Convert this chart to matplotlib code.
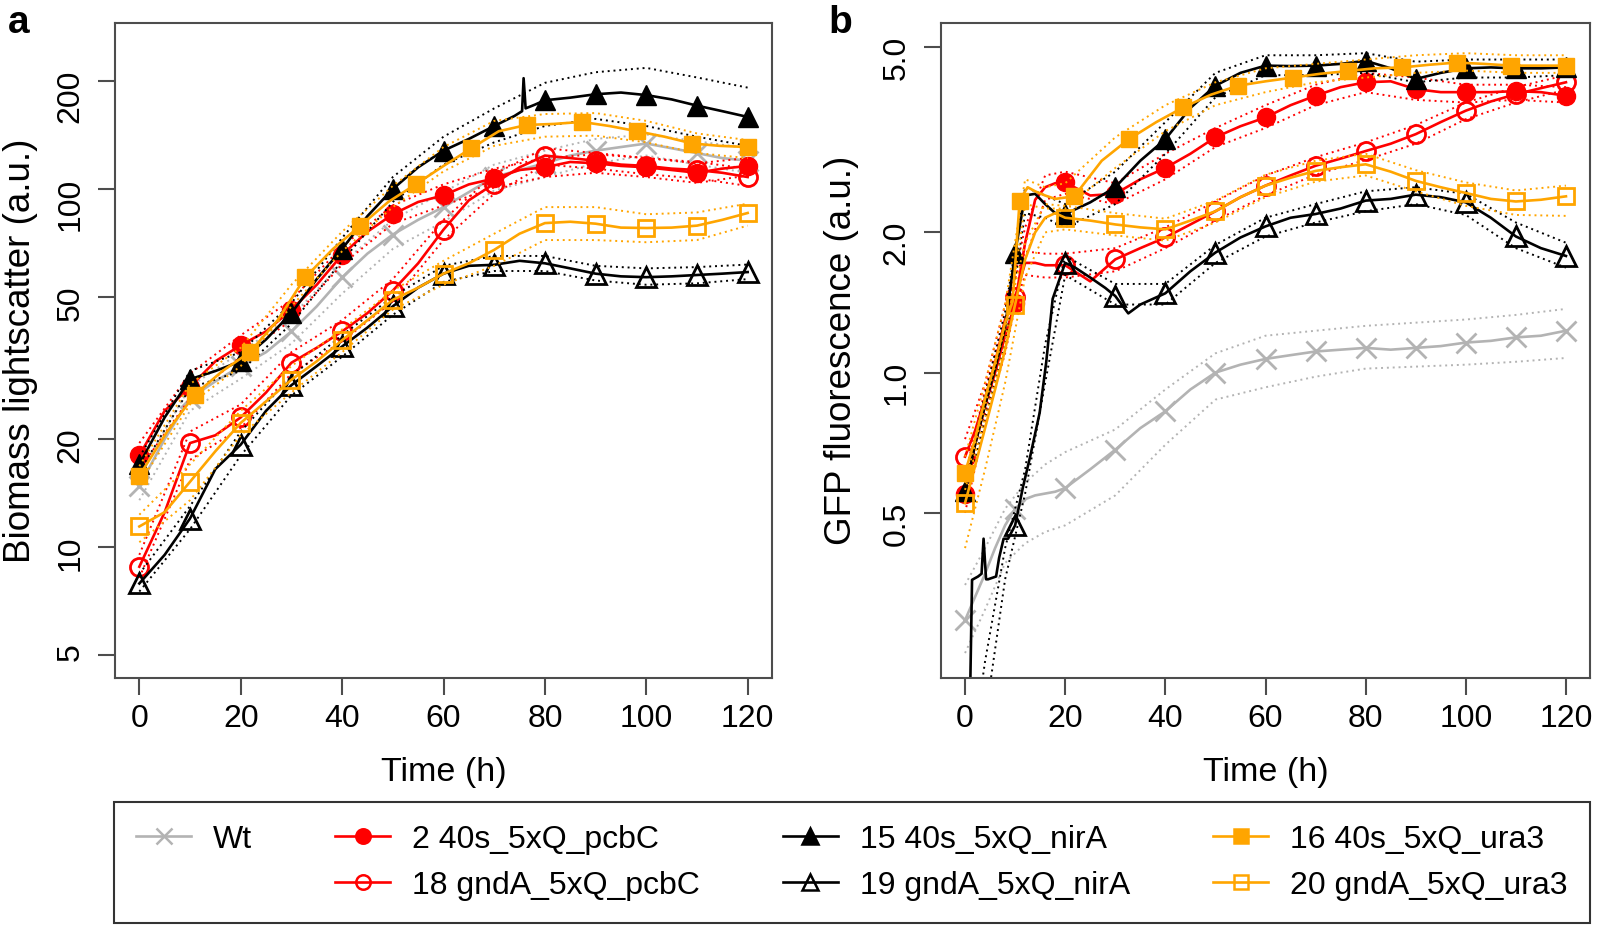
import matplotlib
matplotlib.use("Agg")
import matplotlib.pyplot as plt
from matplotlib.lines import Line2D
from matplotlib.ticker import FixedLocator, FixedFormatter, NullLocator

plt.rcParams['font.family'] = ['Liberation Sans', 'DejaVu Sans']

# ---- time grids (h) ----
T5 = [0, 5, 10, 15, 20, 25, 30, 35, 40, 45, 50, 55, 60, 65, 70, 75, 80, 85, 90, 95, 100, 105, 110, 115, 120]
T10 = [0, 10, 20, 30, 40, 50, 60, 70, 80, 90, 100, 110, 120]
T_SQ = [0, 5.5, 10.9, 16.4, 21.8, 27.3, 32.7, 38.2, 43.6, 49.1, 54.5, 60, 65.5, 70.9, 76.4, 81.8,
        87.3, 92.7, 98.2, 103.6, 109.1, 114.5, 120]
SQ_MARKS = [0, 10.9, 21.8, 32.7, 43.6, 54.5, 65.5, 76.4, 87.3, 98.2, 109.1, 120]
TA_NIR = [0, 5, 10, 15, 20, 25, 30, 35, 40, 45, 50, 55, 60, 65, 70, 74, 75.5, 75.8, 76.2, 78, 80,
          85, 90, 95, 100, 105, 110, 115, 120]
TB = [0, 2, 4, 6, 8, 10, 12, 14, 16, 18, 20, 25, 30, 35, 40, 45, 50, 55, 60, 65, 70, 75, 80, 85,
      90, 95, 100, 105, 110, 115, 120]
TB_BAND = [0, 4, 8, 12, 16, 20, 30, 40, 50, 60, 70, 80, 90, 100, 110, 120]
TB_SQ = [0, 2, 4, 6, 8, 9.5, 10.9, 12.5, 14, 16, 18, 21.8, 27.3, 32.7, 38.2, 43.6, 49.1, 54.5, 60,
         65.5, 70.9, 76.4, 81.8, 87.3, 92.7, 98.2, 103.6, 109.1, 114.5, 120]
TB_NIR = [1.0, 1.4, 2.6, 3.3, 3.7, 4.2, 4.6, 6.2, 6.8, 7.7, 8.6, 10, 11.6, 13, 14.9, 16.2, 17.5, 20,
          22, 25, 28, 30, 32.6, 35, 40, 45, 50, 55, 60, 65, 70, 75, 80, 85, 90, 95, 100, 105, 110,
          115, 120]

# ---- panel a: biomass lightscatter ----
a_wt = [14.8, 20, 26, 29, 32, 35, 40, 47, 56.6, 66, 74.6, 82, 89, 98, 108, 113, 118, 124, 128, 131,
        134, 130, 126, 122, 120]
a_wt_lo = [13.5, 24, 29.5, 37, 51, 68, 81, 99, 108, 118, 124, 117, 111]
a_wt_hi = [16, 28, 35, 44, 62, 82, 98, 117, 128, 138, 142, 136, 130]

a_p2 = [18, 24, 28, 33, 36.6, 40, 46, 54, 65.5, 76, 85, 92, 96, 103, 107, 113, 115, 119, 118, 116,
        115, 113, 111, 114, 116]
a_p2_lo = [16.5, 26, 34, 43, 61.5, 80, 90, 101, 108, 111, 108, 104, 109]
a_p2_hi = [19.5, 30.5, 39, 49, 69, 90, 103, 114, 122, 125, 122, 118, 122]

a_p18 = [8.8, 12.5, 19.5, 20.5, 23, 27, 32.7, 36, 40, 45, 52, 62, 77, 93, 103.5, 115, 124, 122, 120,
         117, 116, 114, 113, 111, 108]
a_p18_lo = [8.2, 17.5, 21.5, 30.5, 37.5, 48.5, 72, 97, 117, 114, 110, 107, 102]
a_p18_hi = [9.5, 21, 25, 35, 43, 56, 82, 110, 130, 126, 122, 119, 114]

a_n15 = [17, 23, 29.4, 31, 33, 38, 45, 56, 68, 84, 100, 115, 128, 138, 150, 160, 165, 204, 168, 172,
         177, 180, 184, 186, 183, 178, 171, 165, 159]
a_n15_lo = [16.2, 27.8, 31, 42, 63, 92, 117, 135, 150, 157, 150, 140, 132]
a_n15_hi = [17.8, 31, 35, 48, 73, 108, 140, 168, 198, 212, 218, 205, 192]

a_n19 = [7.9, 9.5, 12, 16.5, 19.3, 24, 28.3, 32, 36.3, 41, 47, 53, 58, 61, 61.4, 63, 62, 60, 58, 57,
         56.7, 57, 57.5, 58, 58.6]
a_n19_lo = [7.5, 11.2, 18, 26.5, 34, 44.5, 55, 59, 59, 55.5, 54, 54.5, 56]
a_n19_hi = [8.4, 13, 21, 30, 39, 50, 61, 65, 65, 61, 60, 60.5, 61.5]

a_u16 = [15.8, 21, 26.6, 31, 35, 43, 56.6, 68, 79, 92, 103, 116, 130, 145, 151, 152, 154, 150, 145,
         140, 134, 132, 131]
a_u16_lo = [15, 25, 32, 47, 67, 89, 112, 132, 140, 141, 135, 126, 122]
a_u16_hi = [16.8, 28.5, 36, 54, 76, 102, 131, 155, 162, 163, 155, 143, 137]

a_u20 = [11.4, 12.5, 15.2, 18.5, 22.2, 25.5, 29.3, 33, 37.8, 43, 49, 53, 58, 62, 67.6, 75, 80.3, 81,
         80, 78, 77.8, 78, 79, 82, 85.7]
a_u20_lo = [10.3, 13.5, 20.5, 27, 35, 46, 54, 61, 72, 72, 71, 72, 79]
a_u20_hi = [12.3, 17, 24, 32, 40.5, 52, 63, 75, 89, 89, 85, 86, 91]

# ---- panel b: GFP fluorescence ----
b_wt = [0.294, 0.33, 0.37, 0.42, 0.47, 0.51, 0.535, 0.545, 0.55, 0.555, 0.565, 0.62, 0.683, 0.76,
        0.826, 0.92, 1.0, 1.04, 1.07, 1.09, 1.11, 1.12, 1.13, 1.12, 1.13, 1.14, 1.16, 1.17, 1.19,
        1.2, 1.23]
b_wt_lo = [0.25, 0.31, 0.39, 0.43, 0.455, 0.47, 0.545, 0.7, 0.875, 0.93, 0.98, 1.02, 1.03, 1.04,
           1.055, 1.075]
b_wt_hi = [0.35, 0.42, 0.51, 0.58, 0.635, 0.675, 0.755, 0.92, 1.1, 1.2, 1.23, 1.26, 1.28, 1.3,
           1.33, 1.37]

b_p2 = [0.55, 0.7, 0.85, 1.0, 1.2, 1.41, 1.9, 2.35, 2.5, 2.55, 2.56, 2.4, 2.42, 2.6, 2.75, 2.95,
        3.2, 3.38, 3.53, 3.75, 3.93, 4.1, 4.2, 4.22, 4.06, 4.0, 4.0, 4.0, 4.02, 4.0, 3.93]
b_p2_lo = [0.5, 0.78, 1.1, 1.75, 2.35, 2.42, 2.3, 2.6, 3.05, 3.35, 3.75, 4.0, 3.85, 3.8, 3.85, 3.8]
b_p2_hi = [0.6, 0.92, 1.3, 2.05, 2.65, 2.7, 2.55, 2.95, 3.35, 3.75, 4.15, 4.4, 4.3, 4.15, 4.15, 4.1]

b_p18 = [0.66, 0.75, 0.88, 1.05, 1.3, 1.45, 1.72, 1.72, 1.7, 1.7, 1.7, 1.57, 1.75, 1.85, 1.95, 2.08,
         2.22, 2.38, 2.52, 2.65, 2.78, 2.88, 2.99, 3.1, 3.25, 3.45, 3.65, 3.82, 3.96, 4.08, 4.2]
b_p18_lo = [0.6, 0.82, 1.2, 1.62, 1.6, 1.6, 1.65, 1.85, 2.12, 2.4, 2.66, 2.86, 3.1, 3.5, 3.8, 4.05]
b_p18_hi = [0.72, 0.95, 1.4, 1.82, 1.8, 1.8, 1.85, 2.05, 2.33, 2.65, 2.9, 3.12, 3.4, 3.8, 4.1, 4.35]

b_n15 = [0.556, 0.7, 0.85, 1.02, 1.25, 1.81, 2.4, 2.42, 2.3, 2.2, 2.19, 2.32, 2.5, 2.85, 3.17, 3.7,
         4.13, 4.4, 4.56, 4.55, 4.56, 4.6, 4.67, 4.5, 4.27, 4.4, 4.5, 4.52, 4.5, 4.5, 4.52]
b_n15_lo = [0.53, 0.8, 1.15, 2.2, 2.15, 2.05, 2.3, 2.95, 3.9, 4.35, 4.35, 4.4, 4.2, 4.3, 4.3, 4.35]
b_n15_hi = [0.58, 0.9, 1.35, 2.5, 2.4, 2.3, 2.7, 3.45, 4.4, 4.8, 4.8, 4.85, 4.65, 4.7, 4.7, 4.7]

b_n19 = [0.2, 0.359, 0.365, 0.37, 0.44, 0.36, 0.36, 0.365, 0.40, 0.44, 0.44, 0.47, 0.57, 0.66, 0.82,
         1.05, 1.44, 1.72, 1.68, 1.6, 1.52, 1.46, 1.34, 1.4, 1.48, 1.65, 1.81, 1.95, 2.06, 2.15,
         2.19, 2.25, 2.34, 2.36, 2.41, 2.38, 2.32, 2.15, 1.96, 1.85, 1.78]
b_n19_lo = [0.1, 0.18, 0.36, 0.55, 0.95, 1.62, 1.40, 1.40, 1.72, 1.96, 2.1, 2.22, 2.3, 2.18, 1.85,
            1.68]
b_n19_hi = [0.12, 0.24, 0.42, 0.62, 1.15, 1.78, 1.55, 1.55, 1.88, 2.15, 2.3, 2.45, 2.5, 2.42, 2.1,
            1.9]

b_u16 = [0.61, 0.72, 0.88, 1.05, 1.28, 1.42, 2.34, 2.5, 2.45, 2.4, 2.36, 2.39, 2.85, 3.17, 3.45,
         3.71, 3.95, 4.13, 4.22, 4.3, 4.38, 4.44, 4.5, 4.52, 4.58, 4.63, 4.6, 4.56, 4.56, 4.56]
b_u16_lo = [0.56, 0.8, 1.15, 2.3, 2.25, 2.25, 2.75, 3.3, 3.75, 4.0, 4.2, 4.3, 4.4, 4.45, 4.4, 4.4]
b_u16_hi = [0.66, 0.95, 1.4, 2.6, 2.5, 2.55, 3.2, 3.75, 4.2, 4.5, 4.6, 4.7, 4.8, 4.85, 4.8, 4.8]

b_u20 = [0.525, 0.63, 0.76, 0.92, 1.12, 1.4, 1.75, 2.0, 2.15, 2.2, 2.15, 2.12, 2.08, 2.05, 2.03,
         2.12, 2.22, 2.38, 2.52, 2.62, 2.71, 2.76, 2.8, 2.7, 2.58, 2.5, 2.43, 2.36, 2.33, 2.35, 2.39]
b_u20_lo = [0.42, 0.62, 0.95, 1.6, 2.0, 2.03, 1.97, 1.92, 2.1, 2.38, 2.57, 2.65, 2.45, 2.28, 2.18,
            2.17]
b_u20_hi = [0.58, 0.85, 1.25, 1.9, 2.3, 2.28, 2.2, 2.14, 2.34, 2.66, 2.85, 2.95, 2.72, 2.56, 2.46,
            2.52]

LABELS = ['Wt', '2 40s_5xQ_pcbC', '18 gndA_5xQ_pcbC', '15 40s_5xQ_nirA',
          '19 gndA_5xQ_nirA', '16 40s_5xQ_ura3', '20 gndA_5xQ_ura3']

GREY = '#b3b3b3'
RED = '#ff0000'
ORANGE = '#ffa500'
BLACK = '#000000'

# colour, marker, filled, marker size
STYLE = [
    (GREY, 'x', True, 15),
    (RED, 'o', True, 13),
    (RED, 'o', False, 13),
    (BLACK, '^', True, 14),
    (BLACK, '^', False, 14),
    (ORANGE, 's', True, 12),
    (ORANGE, 's', False, 12),
]

PANEL_A = [
    (T5, a_wt, T10, a_wt_lo, a_wt_hi, T10),
    (T5, a_p2, T10, a_p2_lo, a_p2_hi, T10),
    (T5, a_p18, T10, a_p18_lo, a_p18_hi, T10),
    (TA_NIR, a_n15, T10, a_n15_lo, a_n15_hi, T10),
    (T5, a_n19, T10, a_n19_lo, a_n19_hi, T10),
    (T_SQ, a_u16, T10, a_u16_lo, a_u16_hi, SQ_MARKS),
    (T5, a_u20, T10, a_u20_lo, a_u20_hi, T10),
]
PANEL_B = [
    (TB, b_wt, TB_BAND, b_wt_lo, b_wt_hi, T10),
    (TB, b_p2, TB_BAND, b_p2_lo, b_p2_hi, T10),
    (TB, b_p18, TB_BAND, b_p18_lo, b_p18_hi, T10),
    (TB, b_n15, TB_BAND, b_n15_lo, b_n15_hi, T10),
    (TB_NIR, b_n19, TB_BAND, b_n19_lo, b_n19_hi, T10),
    (TB_SQ, b_u16, TB_BAND, b_u16_lo, b_u16_hi, SQ_MARKS),
    (TB, b_u20, TB_BAND, b_u20_lo, b_u20_hi, T10),
]

DOT = (0, (1, 2))
FRAME = '#4d4d4d'


def draw_panel(ax, series):
    for (t, y, tb, lo, hi, marks), (col, mk, filled, ms) in zip(series, STYLE):
        ax.plot(tb, lo, color=col, lw=1.4, ls=DOT)
        ax.plot(tb, hi, color=col, lw=1.4, ls=DOT)
        idx = [i for i, v in enumerate(t) if any(abs(v - m) < 0.05 for m in marks)]
        ax.plot(t, y, color=col, lw=1.9, marker=mk, markevery=idx, ms=ms,
                mfc=col if filled else 'none', mec=col, mew=2.0 if not filled or mk == 'x' else 1)


def style_axes(ax, yticks, ylabels, ylim, ylabel, ylab_x):
    ax.set_yscale('log')
    ax.set_xlim(-4.8, 124.8)
    ax.set_ylim(*ylim)
    ax.xaxis.set_major_locator(FixedLocator(T10[::2]))
    ax.yaxis.set_major_locator(FixedLocator(yticks))
    ax.yaxis.set_major_formatter(FixedFormatter(ylabels))
    ax.yaxis.set_minor_locator(NullLocator())
    ax.tick_params(axis='both', direction='out', length=12, width=1.5, color=FRAME,
                   labelsize=23)
    ax.tick_params(axis='x', pad=7)
    ax.tick_params(axis='y', pad=9, labelrotation=90)
    for s in ax.spines.values():
        s.set_color(FRAME)
        s.set_linewidth(1.5)
    ax.set_xlabel('Time (h)', fontsize=24.5)
    ax.xaxis.set_label_coords(0.5, -0.12)
    ax.set_ylabel(ylabel, fontsize=26.5)
    ax.yaxis.set_label_coords(ylab_x, 0.5)


fig = plt.figure(figsize=(15.98, 9.26), dpi=100)
W, H = 1598, 926
ax_a = fig.add_axes([115 / W, 1 - 678 / H, (772 - 115) / W, (678 - 23) / H])
ax_b = fig.add_axes([941 / W, 1 - 678 / H, (1590 - 941) / W, (678 - 23) / H])

draw_panel(ax_a, PANEL_A)
draw_panel(ax_b, PANEL_B)

style_axes(ax_a, [5, 10, 20, 50, 100, 200], ['5', '10', '20', '50', '100', '200'],
           (4.3, 291), 'Biomass lightscatter (a.u.)', -0.117)
style_axes(ax_b, [0.5, 1.0, 2.0, 5.0], ['0.5', '1.0', '2.0', '5.0'],
           (0.221, 5.63), 'GFP fluorescence (a.u.)', -0.127)

fig.text(8 / W, 1 - 33 / H, 'a', fontsize=28, fontweight='bold', va='baseline')
fig.text(828 / W, 1 - 33 / H, 'b', fontsize=28, fontweight='bold', va='baseline')

# legend: column-wise fill, Wt column has an empty second row
handles = []
for col, mk, filled, ms in STYLE:
    handles.append(Line2D([], [], color=col, lw=1.9, marker=mk, ms=ms * 0.8,
                          mfc=col if filled else 'none', mec=col, mew=1.8))
blank = Line2D([], [], ls='none')
order_h = [handles[0], blank] + handles[1:]
order_l = [LABELS[0], ''] + LABELS[1:]
leg = fig.legend(order_h, order_l, ncol=4, loc='lower left',
                 bbox_to_anchor=(114 / W, 3 / H, (1590 - 114) / W, 122 / H), mode='expand',
                 borderaxespad=0, fontsize=23, frameon=True, fancybox=False,
                 edgecolor='black', handlelength=1.7, handletextpad=0.7,
                 labelspacing=0.5, borderpad=0.7)
leg.get_frame().set_linewidth(1.5)

fig.savefig('out.png', dpi=100)
